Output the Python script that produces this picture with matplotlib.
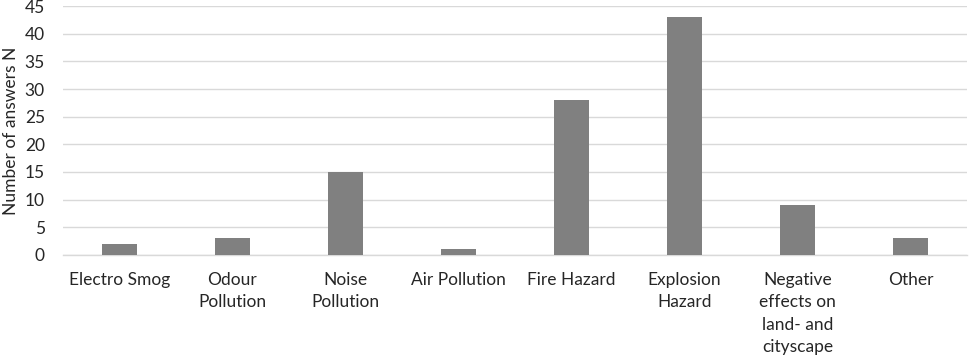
import numpy as np
import matplotlib.pyplot as plt

plt.rcParams['font.family'] = ['Lato', 'DejaVu Sans']

categories = ['Electro Smog', 'Odour\nPollution', 'Noise\nPollution', 'Air Pollution',
              'Fire Hazard', 'Explosion\nHazard', 'Negative\neffects on\nland- and\ncityscape', 'Other']
answers = [2, 3, 15, 1, 28, 43, 9, 3]

fig = plt.figure(figsize=(9.69, 3.58), dpi=100)
ax = fig.add_axes([0.065, 0.288, 0.933, 0.695])

x = np.arange(len(categories))
ax.bar(x, answers, width=0.315, color='#808080', zorder=3)

ax.set_xlim(-0.5, len(categories) - 0.5)
ax.set_ylim(0, 45)
ax.set_yticks(range(0, 46, 5))
ax.set_xticks(x)
ax.set_xticklabels(categories, fontsize=12.5, color='#262626', linespacing=1.5, va='top')
ax.tick_params(axis='y', labelsize=12.5, labelcolor='#262626', length=0, pad=13)
ax.tick_params(axis='x', length=0, pad=12)
ax.set_ylabel('Number of answers N', fontsize=12.5, color='#262626', labelpad=4)

ax.yaxis.grid(True, color='#d9d9d9', linewidth=1.0, zorder=0)
for s in ['top', 'right', 'left']:
    ax.spines[s].set_visible(False)
ax.spines['bottom'].set_color('#d9d9d9')
ax.spines['bottom'].set_linewidth(1.0)

fig.savefig('out.png', dpi=100)
